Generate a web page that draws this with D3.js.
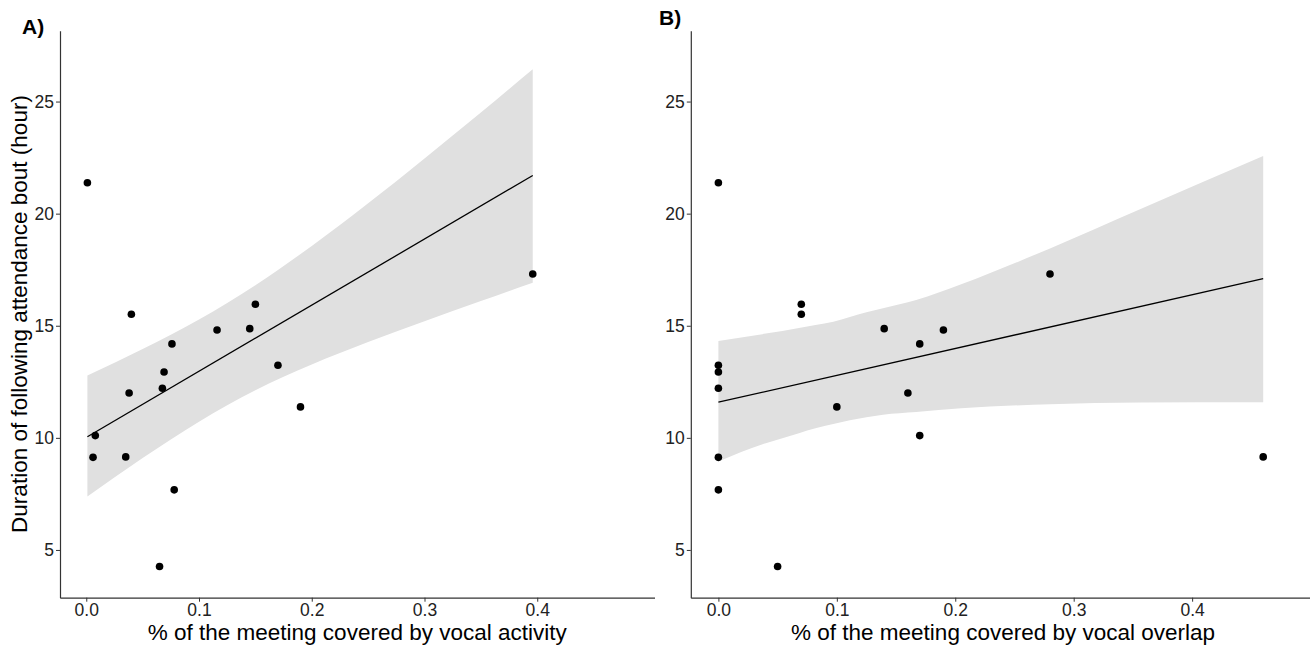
<!DOCTYPE html>
<html>
<head>
<meta charset="utf-8">
<script src="https://cdn.jsdelivr.net/npm/d3@7"></script>
<style>
  body { margin: 0; background: #fff; }
  .axis path, .axis line { stroke: #333; }
</style>
</head>
<body>
<div id="chart"></div>
<script>
// Response: duration of following attendance bout (hour)
var boutHours = [21.38, 15.51, 15.96, 17.31, 14.81, 14.87, 14.19, 12.94, 12.21,
                 12.00, 13.24, 11.38, 10.10, 9.13, 9.15, 7.68, 4.26];

// Panel A: % of meeting covered by vocal activity
var activityPct = [0.001, 0.040, 0.150, 0.396, 0.116, 0.145, 0.076, 0.069, 0.0675,
                   0.038, 0.170, 0.190, 0.008, 0.006, 0.035, 0.078, 0.065];

// Panel B: % of meeting covered by vocal overlap
var overlapPct = [0.000, 0.070, 0.070, 0.280, 0.190, 0.140, 0.170, 0.000, 0.000,
                  0.160, 0.000, 0.100, 0.170, 0.000, 0.460, 0.000, 0.050];

// Fitted lines
var activityFitX = [0.001, 0.396];
var activityFitY = [10.05, 21.70];
var overlapFitX = [0.000, 0.460];
var overlapFitY = [11.59, 17.10];

// Confidence bands
var activityBandX = [0.001, 0.05, 0.10, 0.15, 0.20, 0.25, 0.30, 0.35, 0.396];
var activityUpper = [12.78, 13.96, 15.28, 16.81, 18.56, 20.46, 22.46, 24.51, 26.44];
var activityLower = [7.38, 9.10, 10.72, 12.12, 13.27, 14.27, 15.20, 16.10, 16.92];

var overlapBandX = [0.000, 0.040, 0.054, 0.082, 0.097, 0.125, 0.139, 0.167, 0.205, 0.280, 0.356, 0.460];
var overlapUpper = [14.32, 14.65, 14.77, 15.03, 15.18, 15.60, 15.78, 16.15, 16.85, 18.45, 20.20, 22.57];
var overlapLower = [8.94, 9.76, 9.98, 10.43, 10.62, 10.92, 11.03, 11.15, 11.32, 11.50, 11.58, 11.59];

// Ticks
var xTicks = [0, 0.1, 0.2, 0.3, 0.4];
var yTicks = [5, 10, 15, 20, 25];

var xDomain = [-0.0233, 0.504];
var yDomain = [2.87, 28.16];

var svg = d3.select("#chart")
  .append("svg")
  .attr("width", 1310)
  .attr("height", 646)
  .style("font-family", "'Liberation Sans', Arial, sans-serif");

function drawPanel(opts) {
  var x = d3.scaleLinear().domain(xDomain).range([opts.left, opts.right]);
  var y = d3.scaleLinear().domain(yDomain).range([597.7, 30.7]);

  // Confidence band
  var area = d3.area()
    .x(function(d, i) { return x(opts.bandX[i]); })
    .y0(function(d, i) { return y(opts.lower[i]); })
    .y1(function(d, i) { return y(opts.upper[i]); })
    .curve(d3.curveMonotoneX);

  svg.append("path")
    .datum(opts.bandX)
    .attr("d", area)
    .attr("fill", "#e0e0e0");

  // Fitted line
  svg.append("path")
    .datum(opts.fitX)
    .attr("d", d3.line()
      .x(function(d) { return x(d); })
      .y(function(d, i) { return y(opts.fitY[i]); }))
    .attr("fill", "none")
    .attr("stroke", "#000")
    .attr("stroke-width", 1.3);

  // Points
  svg.append("g")
    .selectAll("circle")
    .data(opts.xs)
    .enter().append("circle")
    .attr("cx", function(d) { return x(d); })
    .attr("cy", function(d, i) { return y(boutHours[i]); })
    .attr("r", 3.8)
    .attr("fill", "#000");

  // Axes
  svg.append("g")
    .attr("class", "axis")
    .attr("transform", "translate(0,597.7)")
    .call(d3.axisBottom(x).tickValues(xTicks).tickFormat(d3.format(".1f"))
      .tickSize(4).tickSizeOuter(0).tickPadding(2))
    .call(function(g) {
      g.select(".domain").attr("stroke-width", 1.2);
      g.selectAll("text").style("font-size", "17.5px").attr("fill", "#222");
    });

  svg.append("g")
    .attr("class", "axis")
    .attr("transform", "translate(" + opts.left + ",0)")
    .call(d3.axisLeft(y).tickValues(yTicks)
      .tickSize(4).tickSizeOuter(0).tickPadding(2))
    .call(function(g) {
      g.select(".domain").attr("stroke-width", 1.2);
      g.selectAll("text").style("font-size", "17.5px").attr("fill", "#222");
    });

  // X axis title
  svg.append("text")
    .attr("x", (opts.left + opts.right) / 2)
    .attr("y", 640)
    .attr("text-anchor", "middle")
    .style("font-size", "22.5px")
    .text(opts.xTitle);

  // Panel tag
  svg.append("text")
    .attr("x", opts.tagX)
    .attr("y", opts.tagY)
    .style("font-size", "21px")
    .style("font-weight", "bold")
    .text(opts.tag);
}

drawPanel({
  left: 60, right: 654.5,
  xs: activityPct,
  fitX: activityFitX, fitY: activityFitY,
  bandX: activityBandX, upper: activityUpper, lower: activityLower,
  xTitle: "% of the meeting covered by vocal activity",
  tag: "A)", tagX: 22, tagY: 33.5
});

drawPanel({
  left: 690.8, right: 1315.3,
  xs: overlapPct,
  fitX: overlapFitX, fitY: overlapFitY,
  bandX: overlapBandX, upper: overlapUpper, lower: overlapLower,
  xTitle: "% of the meeting covered by vocal overlap",
  tag: "B)", tagX: 659, tagY: 25
});

// Shared y axis title
svg.append("text")
  .attr("transform", "translate(27,314) rotate(-90)")
  .attr("text-anchor", "middle")
  .style("font-size", "22.5px")
  .text("Duration of following attendance bout (hour)");
</script>
</body>
</html>
